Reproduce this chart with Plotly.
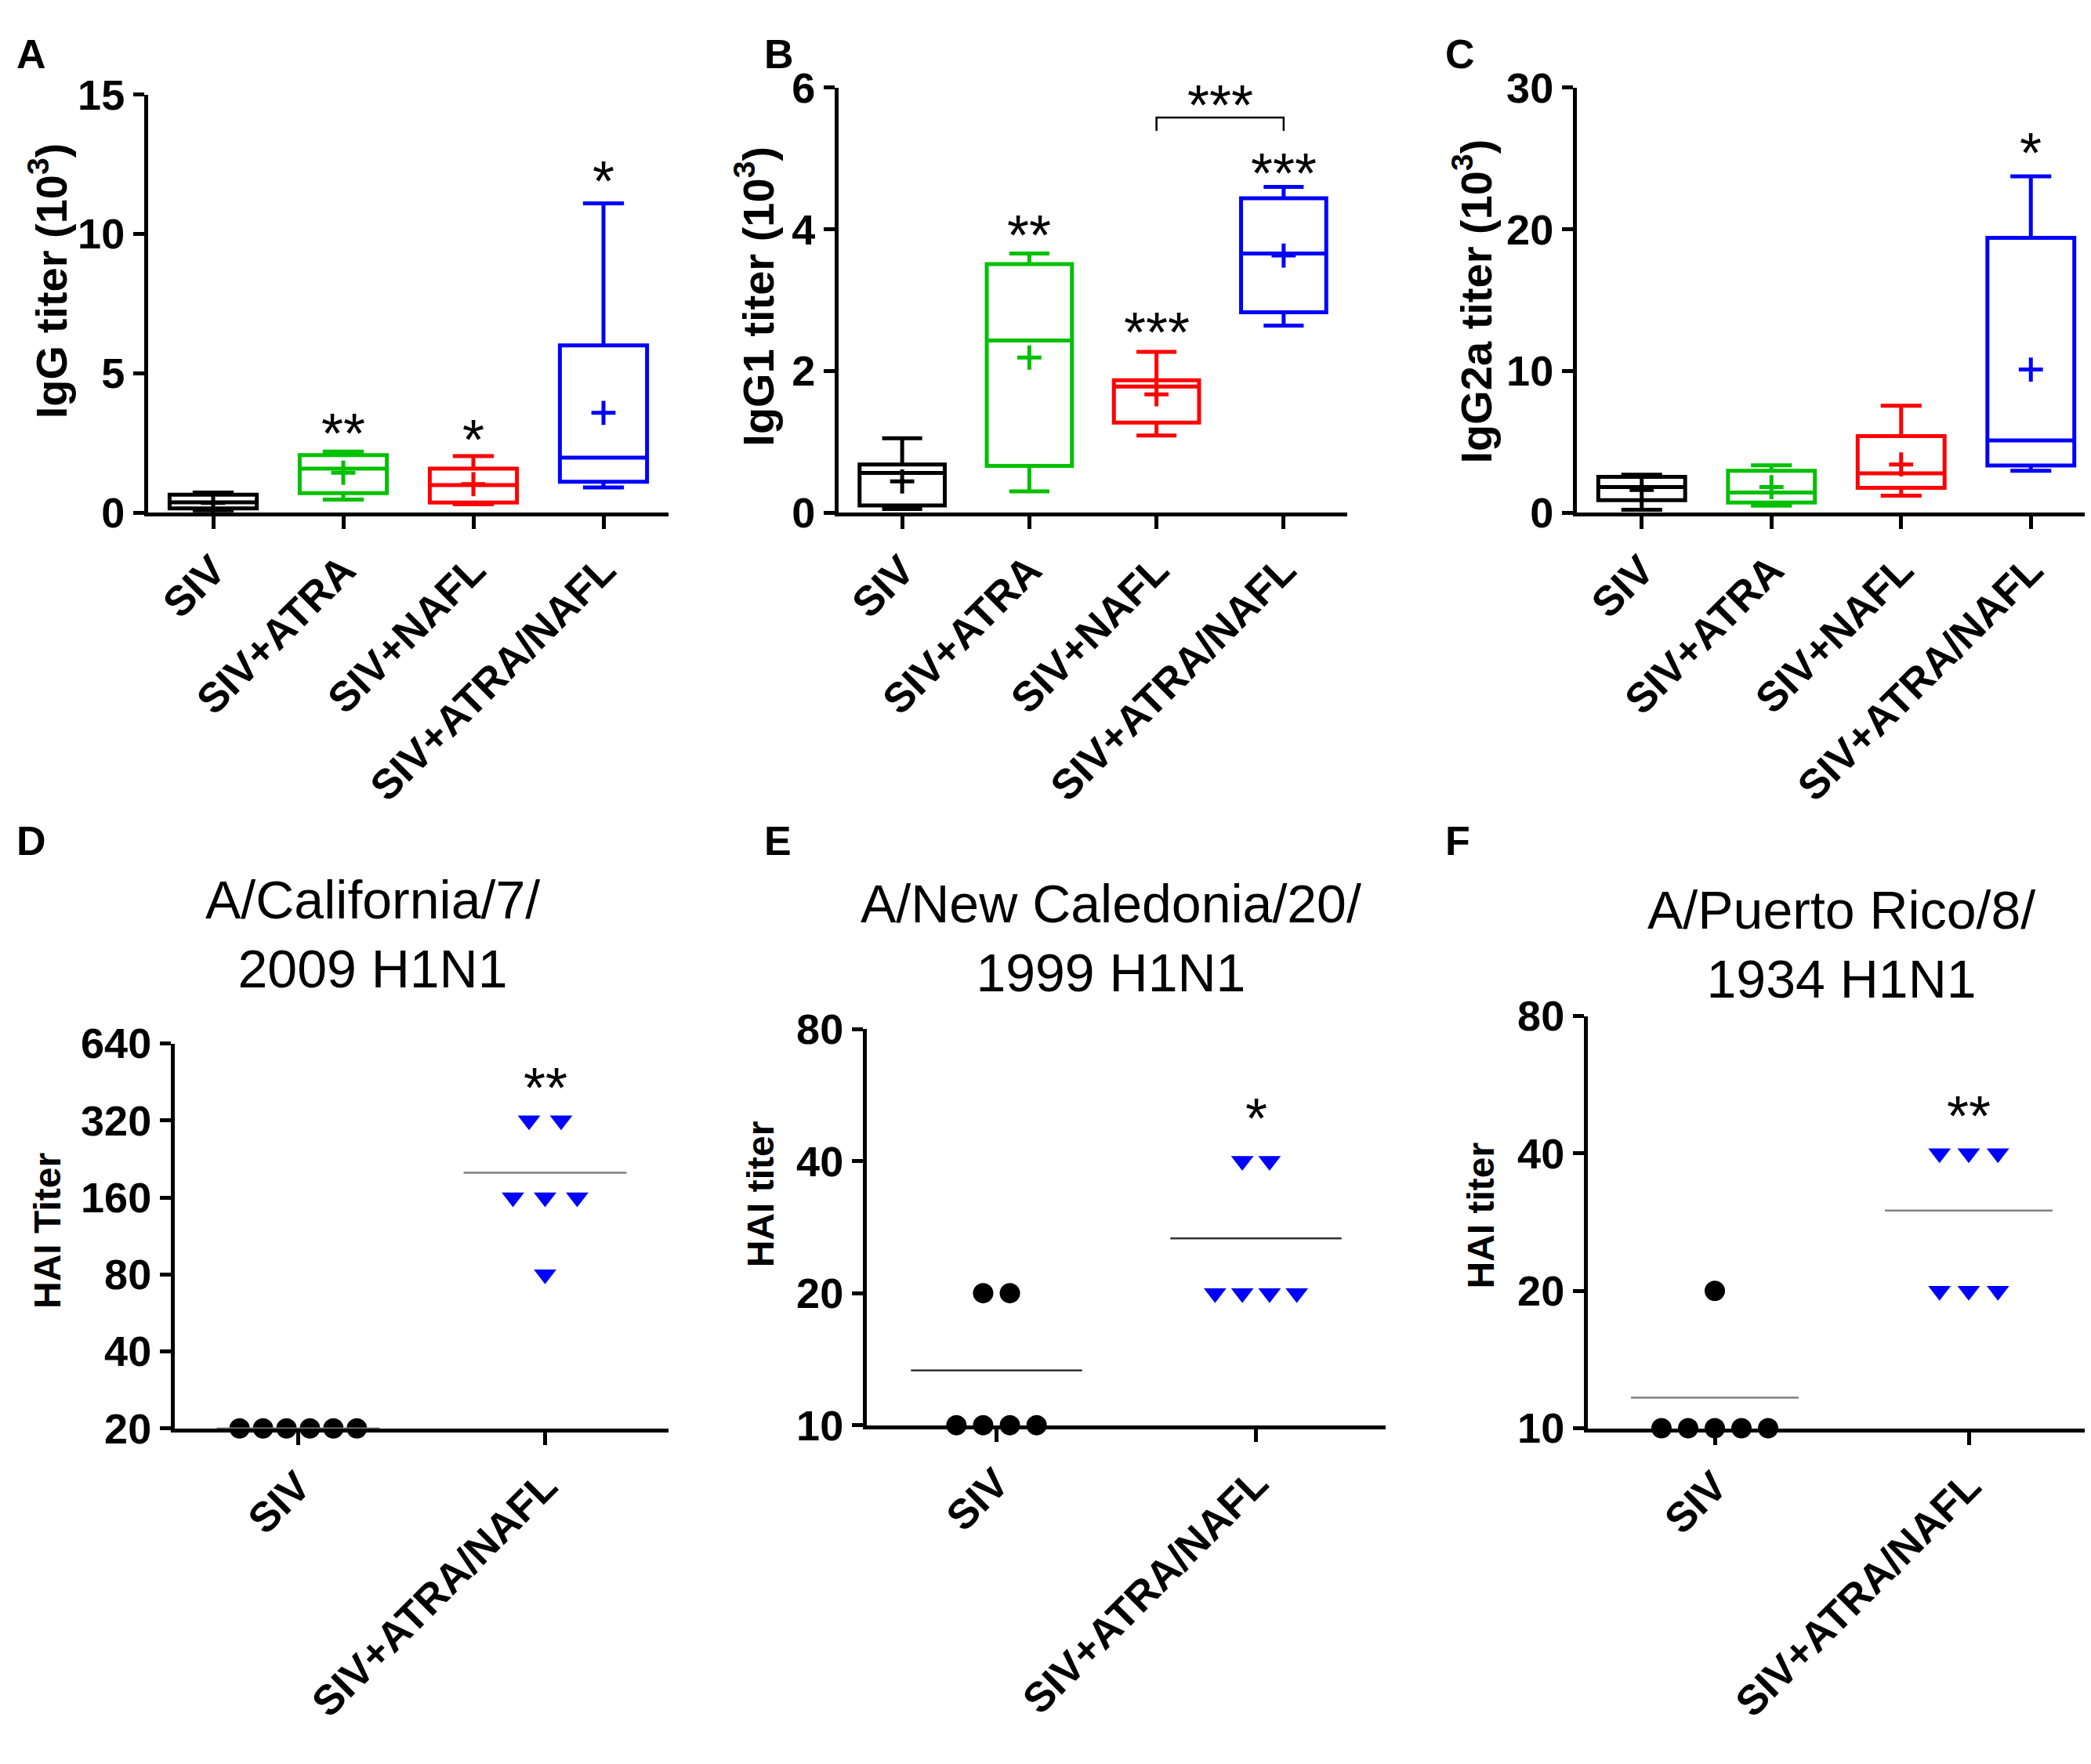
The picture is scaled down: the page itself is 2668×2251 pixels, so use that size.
"""Box plots of IgG subclass titers (A-C) and HAI titer dot plots (D-F)."""

import numpy as np
import plotly.graph_objects as go

W, H = 2668, 2251
FONT = "Liberation Sans"

# ---- panels A-C: box plot summaries (x10^3) ----
groups_top = ["SIV", "SIV+ATRA", "SIV+NAFL", "SIV+ATRA/NAFL"]
colors_top = ["#000000", "#00C000", "#FF0000", "#0000FF"]

igg_min = [0.08, 0.47, 0.30, 0.90]
igg_q1 = [0.15, 0.70, 0.36, 1.11]
igg_med = [0.37, 1.58, 0.99, 1.97]
igg_q3 = [0.64, 2.06, 1.58, 6.00]
igg_max = [0.72, 2.19, 2.03, 11.1]
igg_mean = [0.35, 1.43, 1.02, 3.58]
igg_stars = ["", "**", "*", "*"]
igg_star_y = [0, 3.23, 3.0, 12.3]

igg1_min = [0.05, 0.30, 1.09, 2.64]
igg1_q1 = [0.10, 0.66, 1.27, 2.83]
igg1_med = [0.56, 2.43, 1.78, 3.66]
igg1_q3 = [0.68, 3.51, 1.87, 4.44]
igg1_max = [1.05, 3.66, 2.27, 4.60]
igg1_mean = [0.44, 2.19, 1.67, 3.63]
igg1_stars = ["", "**", "***", "***"]
igg1_star_y = [0, 4.07, 2.70, 4.95]
igg1_bracket_x = [2, 2, 3, 3]
igg1_bracket_y = [5.39, 5.58, 5.58, 5.39]
igg1_bracket_star_y = 5.91

igg2a_min = [0.20, 0.49, 1.19, 2.95]
igg2a_q1 = [0.88, 0.71, 1.75, 3.33]
igg2a_med = [1.80, 1.42, 2.77, 5.10]
igg2a_q3 = [2.52, 2.96, 5.40, 19.4]
igg2a_max = [2.68, 3.34, 7.54, 23.75]
igg2a_mean = [1.60, 1.80, 3.40, 10.1]
igg2a_stars = ["", "", "", "*"]
igg2a_star_y = [0, 0, 0, 26.2]

# ---- panels D-F: HAI titers per mouse ----
groups_hai = ["SIV", "SIV+ATRA/NAFL"]
cal_siv = [20, 20, 20, 20, 20, 20]
cal_combo = [320, 320, 160, 160, 160, 80]
nc_siv = [20, 20, 10, 10, 10, 10]
nc_combo = [40, 40, 20, 20, 20, 20]
pr_siv = [20, 10, 10, 10, 10, 10]
pr_combo = [40, 40, 40, 20, 20, 20]
hai_stars = ["**", "*", "**"]
hai_star_y = [475, 53, 51]


def dom_x(x0, x1):
    return [x0 / W, x1 / W]


def dom_y(top, bottom):
    return [1 - bottom / H, 1 - top / H]


fig = go.Figure()
annotations = []

top_panels = [
    dict(n="", dx=dom_x(181, 845), dy=dom_y(85, 633), rng=[0, 15], dt=5,
         stats=(igg_min, igg_q1, igg_med, igg_q3, igg_max, igg_mean),
         stars=igg_stars, star_y=igg_star_y,
         title="IgG titer (10<sup>3</sup>)", tx=54, ty=329),
    dict(n="2", dx=dom_x(1062, 1711), dy=dom_y(76, 633), rng=[0, 6], dt=2,
         stats=(igg1_min, igg1_q1, igg1_med, igg1_q3, igg1_max, igg1_mean),
         stars=igg1_stars, star_y=igg1_star_y,
         title="IgG1 titer (10<sup>3</sup>)", tx=956, ty=350),
    dict(n="3", dx=dom_x(2004, 2666), dy=dom_y(76, 633), rng=[0, 30], dt=10,
         stats=(igg2a_min, igg2a_q1, igg2a_med, igg2a_q3, igg2a_max, igg2a_mean),
         stars=igg2a_stars, star_y=igg2a_star_y,
         title="IgG2a titer (10<sup>3</sup>)", tx=1872, ty=356),
]

tick_font = dict(family=FONT, size=54, color="black", weight="bold")
cat_font = dict(family=FONT, size=53, color="black", weight="bold")
star_font = dict(family=FONT, size=72, color="black")

axis_common = dict(showline=True, linewidth=5, linecolor="black", ticks="outside",
                   tickwidth=5, tickcolor="black", showgrid=False, zeroline=False)

for p in top_panels:
    xa, ya = "x" + p["n"], "y" + p["n"]
    mn, q1, md, q3, mx, mean = p["stats"]
    for i, g in enumerate(groups_top):
        fig.add_trace(go.Box(
            x=[i], q1=[q1[i]], median=[md[i]], q3=[q3[i]],
            lowerfence=[mn[i]], upperfence=[mx[i]],
            width=0.67, whiskerwidth=0.47, boxpoints=False,
            line=dict(color=colors_top[i], width=5),
            fillcolor="rgba(255,255,255,0)", name=g,
            xaxis=xa, yaxis=ya, showlegend=False,
        ))
        fig.add_trace(go.Scatter(
            x=[i], y=[mean[i]], mode="markers",
            marker=dict(symbol="cross-thin", size=22,
                        line=dict(color=colors_top[i], width=5)),
            xaxis=xa, yaxis=ya, showlegend=False, cliponaxis=False,
        ))
        if p["stars"][i]:
            annotations.append(dict(
                x=i, y=p["star_y"][i], xref=xa, yref=ya, text=p["stars"][i],
                xanchor="center", yanchor="middle",
                showarrow=False, font=star_font, yshift=-14))
    fig.layout["xaxis" + p["n"]] = dict(
        domain=p["dx"], anchor=ya, range=[-0.5, 3.5],
        tickvals=list(range(len(groups_top))), ticktext=groups_top,
        tickangle=-45, tickfont=cat_font, ticklen=16, **axis_common)
    fig.layout["yaxis" + p["n"]] = dict(
        domain=p["dy"], anchor=xa, range=p["rng"], dtick=p["dt"],
        tickfont=tick_font, ticklen=14, **axis_common)
    annotations.append(dict(
        x=p["tx"] / W, y=1 - p["ty"] / H, xref="paper", yref="paper",
        xanchor="center", yanchor="middle",
        text=p["title"], textangle=-90, showarrow=False,
        font=dict(family=FONT, size=56, color="black", weight="bold")))

# bracket between SIV+NAFL and SIV+ATRA/NAFL in panel B
fig.add_trace(go.Scatter(
    x=igg1_bracket_x, y=igg1_bracket_y, mode="lines",
    line=dict(color="black", width=2.5), xaxis="x2", yaxis="y2",
    showlegend=False, cliponaxis=False))
annotations.append(dict(
    x=2.5, y=igg1_bracket_star_y, xref="x2", yref="y2", text="***",
    xanchor="center", yanchor="middle",
    showarrow=False, font=star_font, yshift=-14))

# ---- bottom panels ----
bottom_panels = [
    dict(n="4", dx=dom_x(215, 845), dy=dom_y(1329, 1834),
         data=(cal_siv, cal_combo), spread=(0.095, 0.13), rng=[20, 640],
         tickvals=[20, 40, 80, 160, 320, 640], mean_color="#808080",
         strain="A/California/7/<br>2009 H1N1", sx=467, sy=1186,
         title="HAI Titer", tx=52, ty=1575),
    dict(n="5", dx=dom_x(1098, 1760), dy=dom_y(1310, 1830),
         data=(nc_siv, nc_combo), spread=(0.103, 0.105), rng=[10, 80],
         tickvals=[10, 20, 40, 80], mean_color="#333333",
         strain="A/New Caledonia/20/<br>1999 H1N1", sx=1409, sy=1191,
         title="HAI titer", tx=962, ty=1527),
    dict(n="6", dx=dom_x(2018, 2666), dy=dom_y(1293, 1834),
         data=(pr_siv, pr_combo), spread=(0.105, 0.115), rng=[10, 80],
         tickvals=[10, 20, 40, 80], mean_color="#808080",
         strain="A/Puerto Rico/8/<br>1934 H1N1", sx=2341, sy=1199,
         title="HAI titer", tx=1882, ty=1555),
]

for k, p in enumerate(bottom_panels):
    xa, ya = "x" + p["n"], "y" + p["n"]
    for i, vals in enumerate(p["data"]):
        vals = np.array(vals, dtype=float)
        xs, ys = [], []
        for v in sorted(set(vals), reverse=True):
            n = int((vals == v).sum())
            for j in range(n):
                xs.append(i + (j - (n - 1) / 2) * p["spread"][i])
                ys.append(v)
        if i == 0:
            marker = dict(symbol="circle", size=26, color="black")
        else:
            marker = dict(symbol="triangle-down", size=25, color="#0000FF")
        fig.add_trace(go.Scatter(
            x=xs, y=ys, mode="markers", marker=marker, xaxis=xa, yaxis=ya,
            showlegend=False, cliponaxis=False))
        m = vals.mean()
        fig.add_trace(go.Scatter(
            x=[i - 0.33, i + 0.33], y=[m, m], mode="lines",
            line=dict(color=p["mean_color"], width=2.5),
            xaxis=xa, yaxis=ya, showlegend=False, cliponaxis=False))
    annotations.append(dict(
        x=1, y=np.log10(hai_star_y[k]), xref=xa, yref=ya, text=hai_stars[k],
        xanchor="center", yanchor="middle",
        showarrow=False, font=star_font, yshift=-14))
    fig.layout["xaxis" + p["n"]] = dict(
        domain=p["dx"], anchor=ya, range=[-0.5, 1.5],
        tickvals=[0, 1], ticktext=groups_hai,
        tickangle=-45, tickfont=cat_font, ticklen=16, **axis_common)
    # tiny pad below the lowest titer so points on the axis are not culled
    fig.layout["yaxis" + p["n"]] = dict(
        domain=p["dy"], anchor=xa, type="log",
        range=[np.log10(p["rng"][0]) - 0.001, np.log10(p["rng"][1])],
        tickvals=p["tickvals"], ticktext=[str(t) for t in p["tickvals"]],
        tickfont=tick_font, ticklen=14, **axis_common)
    annotations.append(dict(
        x=p["sx"] / W, y=1 - p["sy"] / H, xref="paper", yref="paper",
        xanchor="center", yanchor="middle",
        text=p["strain"], showarrow=False,
        font=dict(family=FONT, size=68, color="black")))
    annotations.append(dict(
        x=p["tx"] / W, y=1 - p["ty"] / H, xref="paper", yref="paper",
        xanchor="center", yanchor="middle",
        text=p["title"], textangle=-90, showarrow=False,
        font=dict(family=FONT, size=48, color="black", weight="bold")))

# panel letters
for letter, lx, ly in [("A", 11, 0), ("B", 965, 0), ("C", 1834, 0),
                       ("D", 11, 1032), ("E", 965, 1032), ("F", 1834, 1032)]:
    annotations.append(dict(
        x=lx / W, y=1 - ly / H, xref="paper", yref="paper", text=letter,
        xanchor="left", yanchor="top", showarrow=False,
        font=dict(family=FONT, size=52, color="black", weight="bold")))

fig.update_layout(
    width=W, height=H, margin=dict(l=0, r=0, t=0, b=0),
    paper_bgcolor="white", plot_bgcolor="white",
    boxmode="overlay", annotations=annotations, showlegend=False,
)

fig.write_html("out.html")
